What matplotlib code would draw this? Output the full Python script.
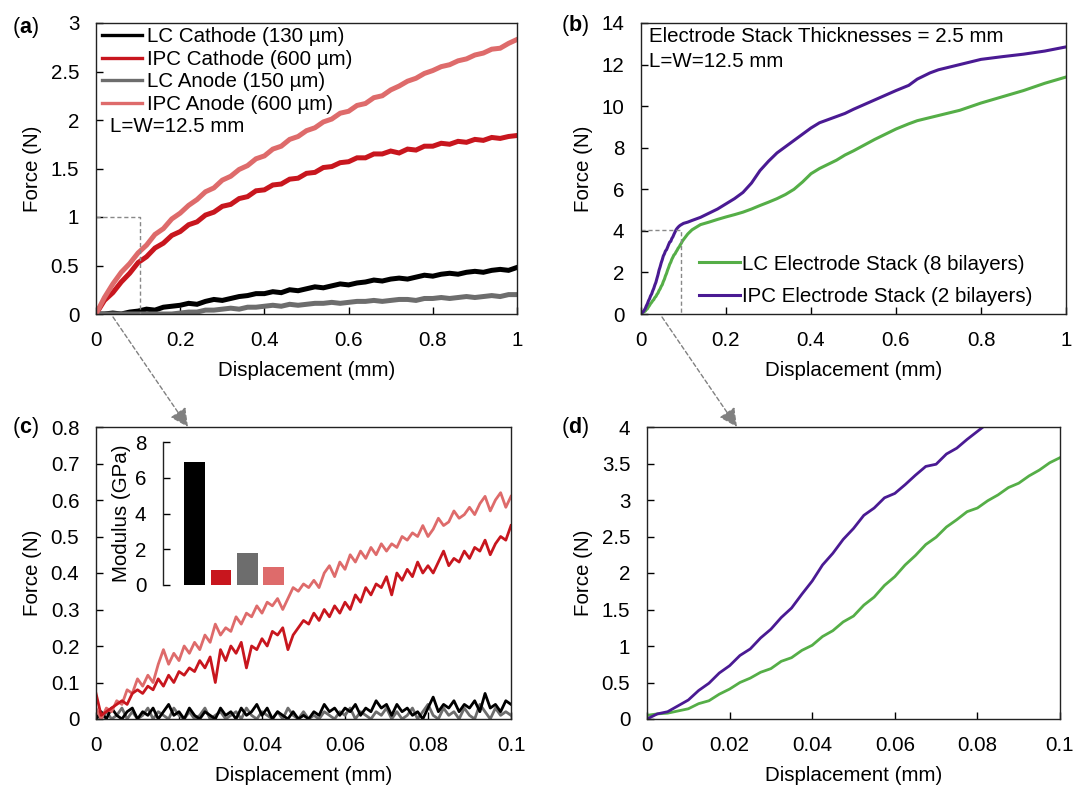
import numpy as np
import matplotlib
matplotlib.use("Agg")
import matplotlib.pyplot as plt
from matplotlib.ticker import FuncFormatter
from matplotlib.patches import FancyArrowPatch

plt.rcParams['font.family'] = ['Liberation Sans', 'DejaVu Sans']
plt.rcParams['mathtext.fontset'] = 'custom'
plt.rcParams['mathtext.bf'] = 'Liberation Sans:bold'
plt.rcParams['mathtext.rm'] = 'Liberation Sans'

# ---------------- data ----------------
labels_a = ["LC Cathode (130 µm)", "IPC Cathode (600 µm)", "LC Anode (150 µm)", "IPC Anode (600 µm)"]
colors_a = ["#000000", "#C8161E", "#6D6D6D", "#DE6B6B"]

# panel (a): displacement 0..1 mm, uniformly sampled
a_lc_cath = [0.00,0.00,0.01,0.00,0.02,0.03,0.05,0.04,0.07,0.08,0.09,0.11,0.10,0.13,0.15,0.14,0.16,0.18,0.19,0.21,
             0.21,0.23,0.22,0.25,0.24,0.26,0.28,0.27,0.29,0.31,0.30,0.32,0.33,0.35,0.34,0.36,0.37,0.36,0.38,0.40,
             0.39,0.41,0.42,0.41,0.43,0.44,0.43,0.45,0.46,0.45,0.48]
a_ipc_cath = [0.00,0.14,0.22,0.33,0.42,0.53,0.59,0.68,0.73,0.81,0.85,0.92,0.95,1.02,1.05,1.11,1.13,1.19,1.21,1.27,
              1.28,1.33,1.34,1.39,1.40,1.45,1.46,1.51,1.52,1.56,1.57,1.61,1.61,1.65,1.65,1.68,1.66,1.70,1.69,1.73,
              1.73,1.76,1.75,1.78,1.77,1.80,1.79,1.82,1.81,1.83,1.84]
a_lc_an = [0.00,0.00,0.00,0.00,0.00,0.00,0.00,0.00,0.00,0.00,0.01,0.02,0.02,0.04,0.04,0.05,0.06,0.05,0.07,0.07,
           0.08,0.09,0.08,0.10,0.09,0.10,0.11,0.11,0.12,0.11,0.12,0.13,0.13,0.14,0.13,0.14,0.15,0.15,0.14,0.16,
           0.16,0.17,0.16,0.17,0.18,0.17,0.18,0.19,0.18,0.20,0.20]
a_ipc_an = [0.00,0.17,0.31,0.43,0.52,0.63,0.71,0.82,0.88,0.98,1.04,1.12,1.18,1.26,1.30,1.38,1.42,1.49,1.53,1.60,
            1.63,1.70,1.73,1.80,1.83,1.89,1.92,1.98,2.01,2.07,2.09,2.15,2.17,2.23,2.25,2.31,2.35,2.40,2.43,2.48,
            2.51,2.55,2.57,2.61,2.63,2.67,2.69,2.73,2.74,2.79,2.83]

# panel (c): displacement 0..0.1 mm, uniformly sampled
c_lc_cath = [0.00,0.02,0.00,0.03,0.01,0.00,0.02,0.03,0.00,0.02,0.01,0.03,0.00,0.02,0.04,0.01,0.02,0.00,0.03,0.01,
             0.00,0.02,0.01,0.00,0.03,0.01,0.02,0.00,0.03,0.01,0.02,0.04,0.01,0.03,0.00,0.02,0.01,0.00,0.02,0.00,
             0.01,0.00,0.02,0.01,0.04,0.02,0.03,0.01,0.03,0.02,0.04,0.01,0.03,0.02,0.05,0.03,0.04,0.01,0.04,0.02,
             0.03,0.01,0.02,0.00,0.03,0.06,0.02,0.04,0.03,0.05,0.02,0.04,0.03,0.05,0.02,0.07,0.03,0.04,0.02,0.05,0.04]
c_ipc_cath = [0.07,0.01,0.02,0.03,0.04,0.05,0.04,0.07,0.08,0.07,0.09,0.08,0.11,0.09,0.12,0.10,0.13,0.12,0.14,0.13,
              0.16,0.14,0.17,0.10,0.19,0.16,0.20,0.18,0.21,0.14,0.20,0.19,0.22,0.20,0.24,0.23,0.25,0.19,0.23,0.25,
              0.27,0.26,0.29,0.27,0.30,0.28,0.31,0.29,0.32,0.30,0.34,0.32,0.36,0.34,0.37,0.36,0.39,0.34,0.40,0.38,
              0.41,0.39,0.43,0.40,0.42,0.40,0.43,0.46,0.42,0.44,0.43,0.46,0.44,0.47,0.46,0.49,0.45,0.48,0.50,0.49,0.53]
c_lc_an = [0.01,0.00,0.02,0.00,0.01,0.03,0.00,0.02,0.00,0.01,0.03,0.00,0.02,0.01,0.00,0.03,0.01,0.00,0.02,0.00,
           0.01,0.03,0.00,0.01,0.02,0.00,0.01,0.02,0.00,0.03,0.01,0.00,0.02,0.01,0.00,0.02,0.00,0.03,0.01,0.00,
           0.02,0.00,0.01,0.00,0.02,0.01,0.00,0.02,0.01,0.03,0.00,0.02,0.01,0.00,0.02,0.01,0.03,0.00,0.02,0.00,
           0.01,0.03,0.00,0.02,0.04,0.01,0.00,0.03,0.01,0.02,0.00,0.03,0.01,0.00,0.04,0.02,0.00,0.03,0.01,0.02,0.01]
c_ipc_an = [0.03,0.00,0.03,0.02,0.05,0.04,0.08,0.07,0.11,0.09,0.12,0.10,0.15,0.19,0.15,0.18,0.16,0.20,0.18,0.21,
            0.19,0.23,0.21,0.26,0.23,0.25,0.24,0.28,0.26,0.29,0.28,0.31,0.29,0.32,0.31,0.33,0.30,0.33,0.36,0.35,
            0.37,0.36,0.38,0.36,0.40,0.42,0.39,0.43,0.41,0.45,0.43,0.46,0.44,0.47,0.45,0.48,0.46,0.48,0.47,0.50,
            0.49,0.51,0.50,0.53,0.50,0.52,0.55,0.53,0.54,0.57,0.55,0.56,0.58,0.56,0.59,0.61,0.57,0.60,0.62,0.58,0.61]

# inset: modulus
mod_labels = ["LC Cathode", "IPC Cathode", "LC Anode", "IPC Anode"]
modulus = [6.9, 0.85, 1.8, 1.0]

# panels (b)/(d): electrode stacks
labels_b = ["LC Electrode Stack (8 bilayers)", "IPC Electrode Stack (2 bilayers)"]
colors_b = ["#55AE47", "#4A1A93"]
stack_dense_lc = [0.05,0.07,0.08,0.11,0.14,0.21,0.25,0.34,0.41,0.50,0.56,0.64,0.69,0.79,0.84,0.94,1.01,1.13,1.21,1.33,
                  1.41,1.56,1.67,1.83,1.95,2.11,2.24,2.39,2.49,2.63,2.73,2.84,2.89,2.99,3.07,3.17,3.23,3.33,3.41,3.51,3.58]
stack_dense_ipc = [0.00,0.07,0.10,0.18,0.26,0.39,0.49,0.63,0.73,0.87,0.96,1.11,1.23,1.39,1.52,1.71,1.89,2.11,2.27,2.46,
                   2.61,2.79,2.89,3.03,3.09,3.21,3.34,3.46,3.49,3.63,3.71,3.83,3.94,4.05,4.12,4.18,4.23,4.27,4.30,4.33,4.36]
stack_tail_x = [0.11,0.12,0.14,0.16,0.18,0.20,0.22,0.24,0.26,0.28,0.30,0.32,0.34,0.36,0.38,0.40,0.42,0.44,0.46,0.48,
                0.50,0.55,0.60,0.63,0.65,0.68,0.70,0.75,0.80,0.85,0.90,0.95,1.00]
stack_tail_lc = [3.85,4.05,4.30,4.42,4.55,4.67,4.78,4.90,5.05,5.22,5.38,5.55,5.75,6.00,6.35,6.75,7.00,7.20,7.40,7.65,
                 7.85,8.40,8.90,9.15,9.30,9.45,9.55,9.80,10.15,10.45,10.75,11.10,11.40]
stack_tail_ipc = [4.42,4.50,4.65,4.85,5.05,5.30,5.55,5.85,6.30,6.90,7.35,7.75,8.05,8.35,8.65,8.95,9.20,9.35,9.50,9.65,
                  9.85,10.30,10.75,11.00,11.30,11.60,11.75,12.00,12.25,12.38,12.50,12.65,12.85]

# ---------------- figure ----------------
W, H = 1074, 785
fig = plt.figure(figsize=(W / 100, H / 100), dpi=100)

def px_axes(l, t, r, b):
    return fig.add_axes([l / W, 1 - b / H, (r - l) / W, (b - t) / H])

FS = 14.8
fmt = FuncFormatter(lambda v, p: "%g" % v)

def style(ax):
    for s in ax.spines.values():
        s.set_linewidth(1.0)
        s.set_color("#222222")
    ax.tick_params(direction="in", length=5, width=1.0, labelsize=FS, pad=12,
                   top=False, right=False)
    ax.xaxis.set_major_formatter(fmt)
    ax.yaxis.set_major_formatter(fmt)
    ax.set_xlabel("Displacement (mm)", fontsize=FS, labelpad=8)
    ax.set_ylabel("Force (N)", fontsize=FS, labelpad=6)

ax_a = px_axes(96, 23, 517, 314)
ax_b = px_axes(641, 23, 1066, 314)
ax_c = px_axes(96, 427, 511, 719)
ax_d = px_axes(647, 427, 1060, 719)

# (a)
for ys, c, lab in zip([a_lc_cath, a_ipc_cath, a_lc_an, a_ipc_an], colors_a, labels_a):
    ax_a.plot(np.linspace(0, 1, len(ys)), ys, color=c, lw=3.6, label=lab, solid_joinstyle="miter")
ax_a.set_xlim(0, 1)
ax_a.set_ylim(0, 3)
ax_a.set_xticks(np.arange(0, 1.01, 0.2))
ax_a.set_yticks(np.arange(0, 3.01, 0.5))
ax_a.plot([0, 0.105, 0.105], [1, 1, 0], ls=(0, (3, 2)), color="#888888", lw=1)
leg = ax_a.legend(loc="upper left", bbox_to_anchor=(0.015, 0.985), frameon=False, fontsize=FS,
                  handlelength=1.95, handletextpad=0.22, labelspacing=0.17, borderaxespad=0, borderpad=0)
for l in leg.get_lines():
    l.set_linewidth(2.4)
ax_a.text(0.033, 0.646, "L=W=12.5 mm", transform=ax_a.transAxes, fontsize=FS, va="center", ha="left")
style(ax_a)

# (b)
x_stack = np.concatenate([np.linspace(0, 0.1, len(stack_dense_lc)), stack_tail_x])
lc_stack = np.concatenate([stack_dense_lc, stack_tail_lc])
ipc_stack = np.concatenate([stack_dense_ipc, stack_tail_ipc])
ax_b.plot(x_stack, lc_stack, color=colors_b[0], lw=2.2, label=labels_b[0])
ax_b.plot(x_stack, ipc_stack, color=colors_b[1], lw=2.2, label=labels_b[1])
ax_b.set_xlim(0, 1)
ax_b.set_ylim(0, 14)
ax_b.set_xticks(np.arange(0, 1.01, 0.2))
ax_b.set_yticks(np.arange(0, 14.1, 2))
ax_b.plot([0, 0.094, 0.094], [4.05, 4.05, 0], ls=(0, (3, 2)), color="#888888", lw=1)
ax_b.legend(loc="lower left", bbox_to_anchor=(0.136, 0.027), frameon=False, fontsize=FS,
            handlelength=2.0, handletextpad=0.12, labelspacing=0.66, borderaxespad=0, borderpad=0)
ax_b.text(0.018, 0.955, "Electrode Stack Thicknesses = 2.5 mm", transform=ax_b.transAxes,
          fontsize=FS, va="center", ha="left")
ax_b.text(0.018, 0.866, "L=W=12.5 mm", transform=ax_b.transAxes, fontsize=FS, va="center", ha="left")
style(ax_b)

# (c)
for ys, c in zip([c_lc_an, c_lc_cath, c_ipc_an, c_ipc_cath], [colors_a[2], colors_a[0], colors_a[3], colors_a[1]]):
    ax_c.plot(np.linspace(0, 0.1, len(ys)), ys, color=c, lw=2.0)
ax_c.set_xlim(0, 0.1)
ax_c.set_ylim(0, 0.8)
ax_c.set_xticks(np.arange(0, 0.101, 0.02))
ax_c.set_yticks(np.arange(0, 0.81, 0.1))
style(ax_c)

# inset
ax_in = px_axes(163, 442, 292, 585)
ax_in.bar(np.arange(len(modulus)), modulus, width=0.78, color=colors_a)
ax_in.set_xlim(-1.2, 3.7)
ax_in.set_ylim(0, 8)
ax_in.set_yticks([0, 2, 4, 6, 8])
ax_in.set_xticks([])
for s in ["top", "right", "bottom"]:
    ax_in.spines[s].set_visible(False)
ax_in.spines["left"].set_linewidth(1.0)
ax_in.spines["left"].set_color("#222222")
ax_in.patch.set_alpha(0)
ax_in.tick_params(axis="y", direction="in", length=5, width=1.0, labelsize=FS, pad=12)
ax_in.set_ylabel("Modulus (GPa)", fontsize=FS, labelpad=3)

# (d)
ax_d.plot(x_stack, lc_stack, color=colors_b[0], lw=2.0)
ax_d.plot(x_stack, ipc_stack, color=colors_b[1], lw=2.0)
ax_d.set_xlim(0, 0.1)
ax_d.set_ylim(0, 4)
ax_d.set_xticks(np.arange(0, 0.101, 0.02))
ax_d.set_yticks(np.arange(0, 4.01, 0.5))
style(ax_d)

# panel labels
for txt, (x, y) in zip("abcd", [(12, 28), (561, 26), (12, 428), (561, 428)]):
    fig.text(x / W, 1 - y / H, "($\\mathbf{%s}$)" % txt, fontsize=15.5, va="center", ha="left")

# zoom arrows
for (x0, y0), (x1, y1) in [((113, 317), (188, 427)), ((662, 317), (737, 427))]:
    arr = FancyArrowPatch((x0 / W, 1 - y0 / H), (x1 / W, 1 - y1 / H), transform=fig.transFigure,
                          arrowstyle="-|>,head_length=0.7,head_width=0.35", mutation_scale=16,
                          color="#808080", lw=1, linestyle=(0, (3, 2)), shrinkA=0, shrinkB=0)
    fig.add_artist(arr)

fig.savefig("out.png", dpi=100)
